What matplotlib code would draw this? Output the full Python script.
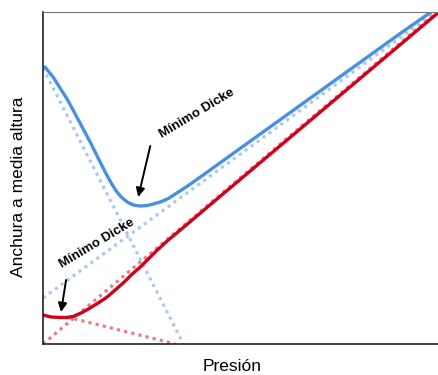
import matplotlib
matplotlib.use('Agg')
from matplotlib import pyplot as plt

plt.rcParams['font.family'] = ['Liberation Sans', 'DejaVu Sans']

# curve values (arbitrary units, no ticks on the chart)
blue_x = [2, 10, 17, 24, 30, 38, 47, 55, 62, 68, 73, 78, 84, 90, 97, 104, 110, 117,
          125, 132, 145, 157, 175, 207, 257, 307, 357, 387]
blue_y = [277, 267, 256, 245, 234, 219, 202, 186, 172, 161, 153, 147, 142, 139, 138,
          138.5, 140, 142, 145.5, 150, 158.5, 167, 180, 203, 239, 275, 311, 332]

red_x = [0, 8, 17, 24, 30, 38, 47, 55, 64, 72, 80, 88, 97, 105, 114, 125, 137, 170, 247, 395]
red_y = [29, 27, 26.5, 26.5, 27.5, 31, 36, 41, 47, 54, 61, 69, 77, 85, 94, 104, 114, 142, 207, 332]

# asymptotes (dotted)
blue_dopp_x = [0, 140]
blue_dopp_y = [276, 0]
blue_pres_x = [0, 394]
blue_pres_y = [46, 334]
red_dopp_x = [24, 132]
red_dopp_y = [27, 0]
red_pres_x = [0, 393]
red_pres_y = [0, 332]

label = 'Mínimo Dicke'
ann_upper = dict(text=(154, 231), tail=(107, 198), tip=(95, 147))
ann_lower = dict(text=(54, 101), tail=(23, 64), tip=(18, 32))

fig = plt.figure(figsize=(4.38, 3.75), dpi=100)
ax = fig.add_axes([43 / 438, 31 / 375, 395 / 438, 332 / 375])

dot = (0, (1, 1.3))
ax.plot(blue_dopp_x, blue_dopp_y, color='#a9c9f2', lw=2.3, linestyle=dot)
ax.plot(blue_pres_x, blue_pres_y, color='#a9c9f2', lw=2.3, linestyle=dot)
ax.plot(red_pres_x, red_pres_y, color='#e67c88', lw=2.3, linestyle=dot)
ax.plot(red_dopp_x, red_dopp_y, color='#e67c88', lw=2.3, linestyle=dot)

ax.plot(blue_x, blue_y, color='#4a90e2', lw=2.4, solid_capstyle='round', solid_joinstyle='round')
ax.plot(red_x, red_y, color='#d0021b', lw=2.4, solid_capstyle='round', solid_joinstyle='round')

for a in (ann_upper, ann_lower):
    ax.annotate('', xy=a['tip'], xytext=a['tail'],
                arrowprops=dict(arrowstyle='-|>', color='black', lw=1.4,
                                mutation_scale=13, shrinkA=0, shrinkB=0))
    ax.text(a['text'][0], a['text'][1], label, rotation=31, fontsize=9.5,
            fontweight='bold', ha='center', va='center')

ax.set_xlim(0, 394)
ax.set_ylim(0, 332)
ax.set_xticks([])
ax.set_yticks([])
ax.spines['right'].set_visible(False)
ax.spines['top'].set_color('#777777')
ax.spines['top'].set_linewidth(0.8)
ax.spines['left'].set_color('#222222')
ax.spines['bottom'].set_color('#222222')
ax.spines['left'].set_linewidth(1.2)
ax.spines['bottom'].set_linewidth(1.2)

ax.set_xlabel('Presión', fontsize=12.5)
ax.set_ylabel('Anchura a media altura', fontsize=12.5)
ax.xaxis.set_label_coords(0.48, -0.045)
ax.yaxis.set_label_coords(-0.043, 0.473)

fig.savefig('out.png', dpi=100)
